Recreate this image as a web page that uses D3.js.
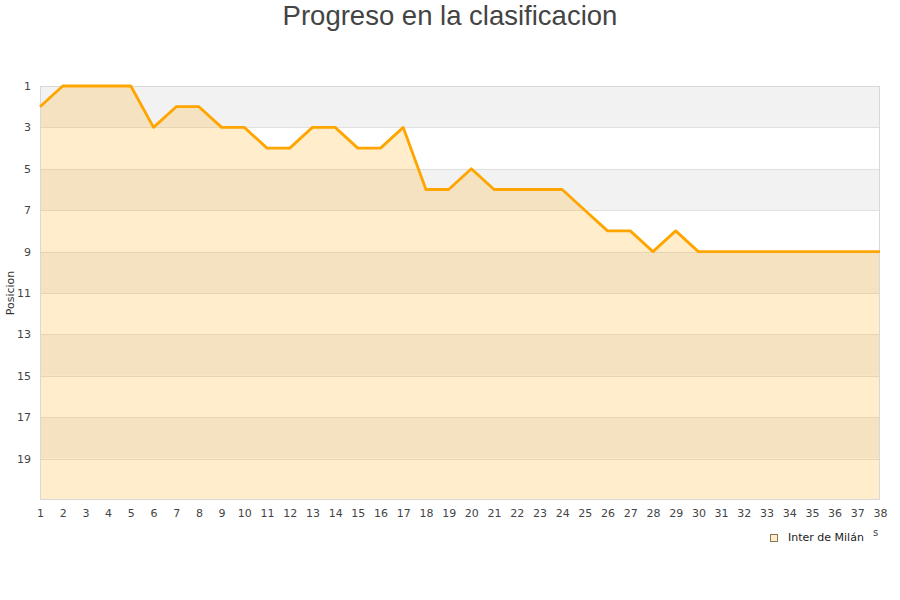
<!DOCTYPE html>
<html>
<head>
  <meta charset="utf-8">
  <title>Progreso en la clasificacion</title>
  <script src="https://d3js.org/d3.v7.min.js"></script>
  <style>
    body { margin: 0; background: #fff; }
  </style>
</head>
<body>
<script type="text/javascript">

  // data
  var jornadas = d3.range(1, 39);
  var posiciones = [2, 1, 1, 1, 1, 3, 2, 2, 3, 3, 4, 4, 3, 3, 4, 4, 3, 6, 6, 5,
                    6, 6, 6, 6, 7, 8, 8, 9, 8, 9, 9, 9, 9, 9, 9, 9, 9, 9];
  var yTicks = [1, 3, 5, 7, 9, 11, 13, 15, 17, 19];
  var equipo = "Inter de Milán";

  var w = 900;
  var h = 600;
  var plotLeft = 40, plotRight = 880, plotTop = 86, plotBottom = 500;

  var svg = d3.select("body").append("svg")
          .attr("width", w)
          .attr("height", h);

  var xScale = d3.scaleLinear().domain([1, 38]).range([plotLeft, plotRight]);
  var yScale = d3.scaleLinear().domain([1, 21]).range([plotTop, plotBottom]);

  //bands grey / white
  svg.selectAll("rect.band")
      .data(yTicks)
      .enter()
      .append("rect")
      .attr("class", "band")
      .attr("x", plotLeft)
      .attr("width", plotRight - plotLeft)
      .attr("y", function(d){ return yScale(d); })
      .attr("height", function(d){ return yScale(d + 2) - yScale(d); })
      .attr("fill", function(d, i){ return i % 2 == 0 ? "#f2f2f2" : "#ffffff"; });

  //grid lines
  svg.selectAll("line.grid")
      .data(yTicks.slice(1))
      .enter()
      .append("line")
      .attr("x1", plotLeft).attr("x2", plotRight)
      .attr("y1", function(d){ return Math.round(yScale(d)) + 0.5; })
      .attr("y2", function(d){ return Math.round(yScale(d)) + 0.5; })
      .attr("stroke", "#e0e0e0")
      .attr("stroke-width", 1);

  var data = jornadas.map(function(j, i){ return {j: j, p: posiciones[i]}; });

  var area = d3.area()
      .x(function(d){ return xScale(d.j); })
      .y0(plotBottom)
      .y1(function(d){ return yScale(d.p); });

  var line = d3.line()
      .x(function(d){ return xScale(d.j); })
      .y(function(d){ return yScale(d.p); });

  svg.append("path")
      .datum(data)
      .attr("d", area)
      .attr("fill", "#ffa500")
      .attr("fill-opacity", 0.2);

  //plot border
  svg.append("rect")
      .attr("x", plotLeft + 0.5).attr("y", plotTop + 0.5)
      .attr("width", plotRight - plotLeft - 1).attr("height", plotBottom - plotTop - 1)
      .attr("fill", "none")
      .attr("stroke", "#d8d8d8");

  svg.append("path")
      .datum(data)
      .attr("d", line)
      .attr("fill", "none")
      .attr("stroke", "#ffa500")
      .attr("stroke-width", 2.8)
      .attr("stroke-linejoin", "round");

  //axes
  var yAxis = d3.axisLeft(yScale).tickValues(yTicks).tickSize(0).tickPadding(9);
  var gy = svg.append("g").attr("transform", "translate(" + plotLeft + ",0)").call(yAxis);

  var xAxis = d3.axisBottom(xScale).tickValues(jornadas).tickSize(0).tickPadding(9);
  var gx = svg.append("g").attr("transform", "translate(0," + plotBottom + ")").call(xAxis);

  [gx, gy].forEach(function(g){
    g.select(".domain").remove();
    g.selectAll("text")
        .attr("font-family", "DejaVu Sans, sans-serif")
        .attr("font-size", 11)
        .attr("fill", "#444");
  });

  svg.append("text")
      .attr("transform", "translate(14," + ((plotTop + plotBottom) / 2) + ") rotate(-90)")
      .attr("text-anchor", "middle")
      .attr("font-family", "DejaVu Sans, sans-serif")
      .attr("font-size", 11)
      .attr("fill", "#333")
      .text("Posicion");

  svg.append("text")
      .attr("x", 873).attr("y", 536)
      .attr("font-family", "DejaVu Sans, sans-serif")
      .attr("font-size", 10)
      .attr("fill", "#444")
      .text("s");

  //title
  svg.append("text")
      .attr("x", w / 2).attr("y", 25)
      .attr("text-anchor", "middle")
      .attr("font-family", "Liberation Sans, Arial, sans-serif")
      .attr("font-size", 27.5)
      .attr("fill", "#444")
      .text("Progreso en la clasificacion");

  //legend
  svg.append("rect")
      .attr("x", 770.5).attr("y", 534.5)
      .attr("width", 7).attr("height", 7)
      .attr("fill", "#ffedcc")
      .attr("stroke", "#8a7550");
  svg.append("text")
      .attr("x", 788).attr("y", 541)
      .attr("font-family", "DejaVu Sans, sans-serif")
      .attr("font-size", 11)
      .attr("fill", "#222")
      .text(equipo);

</script>
</body>
</html>
